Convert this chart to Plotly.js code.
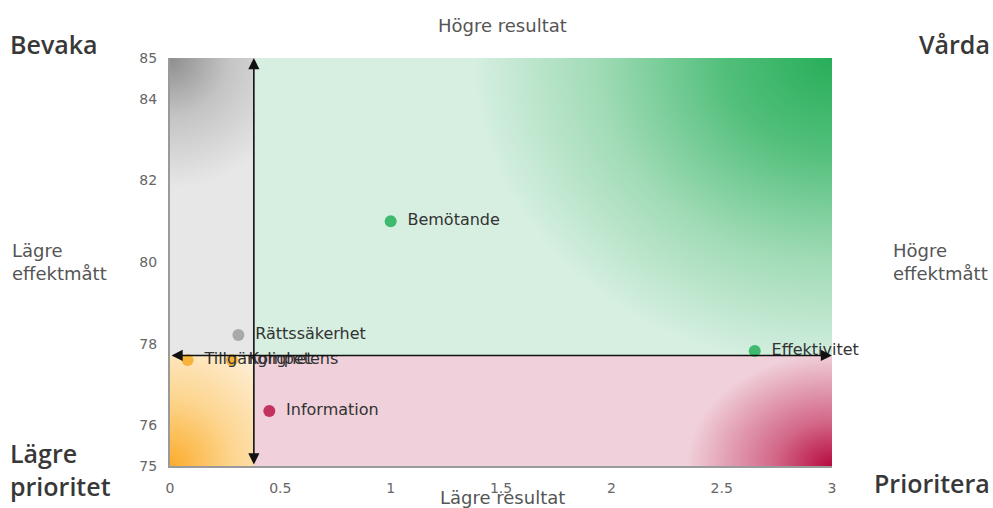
<!DOCTYPE html>
<html><head><meta charset="utf-8">
<script src="https://cdn.plot.ly/plotly-3.0.1.min.js"></script>
<style>html,body{margin:0;padding:0;background:#fff}#chart{width:993px;height:508px}</style>
</head><body><div id="chart"></div>
<script>
// ---- data ----
const labels = ['Bemötande', 'Effektivitet', 'Rättssäkerhet', 'Tillgänglighet', 'Kompetens', 'Information'];
const resultat = [1.00, 2.65, 0.31, 0.08, 0.28, 0.45];
const effektmatt = [81.00, 77.82, 78.21, 77.60, 77.60, 76.35];
const xTicks = [0, 0.5, 1, 1.5, 2, 2.5, 3];
const yTicks = [75, 76, 78, 80, 82, 84, 85];
const xRange = [0, 3];
const yRange = [75, 85];

// ---- layout geometry ----
const W = 993, H = 508;
const M = {l: 170, r: 161, t: 58, b: 42, pad: 0};
const PW = W - M.l - M.r, PH = H - M.t - M.b;

function median(a) {
  const s = [...a].sort((p, q) => p - q), n = s.length;
  return n % 2 ? s[(n - 1) / 2] : (s[n / 2 - 1] + s[n / 2]) / 2;
}
const xSplit = median(resultat);
const ySplit = median(effektmatt);

const quadColor = {tl: '#a9a9a9', tr: '#3dba6e', bl: '#f6b43b', br: '#c3315f'};
const pointColors = resultat.map((x, i) => {
  const top = effektmatt[i] >= ySplit, right = x >= xSplit;
  return quadColor[(top ? 't' : 'b') + (right ? 'r' : 'l')];
});

function gradImage(x0, x1, y0, y1, corner, stops, rx, ry) {
  const w = (x1 - x0) / (xRange[1] - xRange[0]) * PW;
  const h = (y1 - y0) / (yRange[1] - yRange[0]) * PH;
  const cx = corner[1] === 'l' ? 0 : w;
  const cy = corner[0] === 't' ? 0 : h;
  const st = stops.map(s => `<stop offset="${s[0]}" stop-color="${s[1]}"/>`).join('');
  const svg = `<svg xmlns="http://www.w3.org/2000/svg" width="${w}" height="${h}" viewBox="0 0 ${w} ${h}" preserveAspectRatio="none">` +
    `<defs><radialGradient id="g" gradientUnits="userSpaceOnUse" cx="${cx}" cy="${cy}" r="${rx}" ` +
    `gradientTransform="translate(${cx} ${cy}) scale(1 ${ry / rx}) translate(${-cx} ${-cy})">${st}</radialGradient></defs>` +
    `<rect x="0" y="0" width="${w}" height="${h}" fill="url(#g)"/></svg>`;
  return {
    source: 'data:image/svg+xml;charset=utf-8,' + encodeURIComponent(svg),
    xref: 'x', yref: 'y', x: x0, y: y1, sizex: x1 - x0, sizey: y1 - y0,
    xanchor: 'left', yanchor: 'top', sizing: 'stretch', layer: 'below'
  };
}

const images = [
  gradImage(xRange[0], xSplit, ySplit, yRange[1], 'tl',
    [[0, '#8e8e8e'], [0.45, '#c4c4c4'], [1, '#e7e7e7']], 130, 130),
  gradImage(xSplit, xRange[1], ySplit, yRange[1], 'tr',
    [[0, '#27ae59'], [0.3, '#52bf7b'], [0.65, '#a0dbb6'], [1, '#d6efe1']], 360, 310),
  gradImage(xRange[0], xSplit, yRange[0], ySplit, 'bl',
    [[0, '#fbad2c'], [0.45, '#fdd58f'], [1, '#fef3e3']], 140, 150),
  gradImage(xSplit, xRange[1], yRange[0], ySplit, 'br',
    [[0, '#b70a3e'], [0.4, '#d36889'], [1, '#f0d0da']], 145, 112)
];

const FONT = 'DejaVu Sans';
const TITLE_FONT = {family: 'Open Sans', size: 25, color: '#383838', weight: 600};
const SIDE_FONT = {family: FONT, size: 18, color: '#555'};
const px = v => (v - M.l) / PW;      // pixel x -> paper
const py = v => (H - M.b - v) / PH;  // pixel y -> paper

const trace = {
  type: 'scatter', mode: 'markers+text',
  x: resultat, y: effektmatt,
  text: labels.map(t => '\u00a0\u2009' + t),
  textposition: 'middle right',
  textfont: {family: FONT, size: 16, color: '#333'},
  marker: {size: 12, color: pointColors},
  cliponaxis: false, hoverinfo: 'text', showlegend: false
};

function arrow(x, y, ax, ay) {
  return {x: x, y: y, ax: ax, ay: ay, xref: 'x', yref: 'y', axref: 'x', ayref: 'y',
    text: '', showarrow: true, arrowside: 'end+start', arrowhead: 2, startarrowhead: 2,
    arrowsize: 1.4, startarrowsize: 1.4, arrowwidth: 1.6, arrowcolor: '#111',
    standoff: 0, startstandoff: 0};
}

const annotations = [
  arrow(xSplit, yRange[1], xSplit, yRange[0]),
  arrow(xRange[1], ySplit, xRange[0], ySplit),
  {text: 'Högre resultat', xref: 'paper', yref: 'paper', x: px(502), y: py(25), showarrow: false, font: {family: FONT, size: 18, color: '#555'}, xanchor: 'center', yanchor: 'middle'},
  {text: 'Lägre resultat', xref: 'paper', yref: 'paper', x: px(502), y: py(497), showarrow: false, font: {family: FONT, size: 18, color: '#555'}, xanchor: 'center', yanchor: 'middle'},
  {text: 'Bevaka', xref: 'paper', yref: 'paper', x: px(8), y: py(44), showarrow: false, font: TITLE_FONT, xanchor: 'left', yanchor: 'middle'},
  {text: 'Vårda', xref: 'paper', yref: 'paper', x: px(992), y: py(44), showarrow: false, font: TITLE_FONT, xanchor: 'right', yanchor: 'middle'},
  {text: 'Lägre<br>prioritet', xref: 'paper', yref: 'paper', x: px(8), y: py(469), showarrow: false, font: TITLE_FONT, xanchor: 'left', yanchor: 'middle', align: 'left'},
  {text: 'Prioritera', xref: 'paper', yref: 'paper', x: px(992), y: py(483), showarrow: false, font: TITLE_FONT, xanchor: 'right', yanchor: 'middle'},
  {text: 'Lägre<br>effektmått', xref: 'paper', yref: 'paper', x: px(10), y: py(262), showarrow: false, font: SIDE_FONT, xanchor: 'left', yanchor: 'middle', align: 'left'},
  {text: 'Högre<br>effektmått', xref: 'paper', yref: 'paper', x: px(891), y: py(262), showarrow: false, font: SIDE_FONT, xanchor: 'left', yanchor: 'middle', align: 'left'}
];

const layout = {
  width: W, height: H, margin: M,
  paper_bgcolor: '#fff', plot_bgcolor: '#fff',
  showlegend: false,
  xaxis: {range: xRange, tickvals: xTicks, ticks: '', showgrid: false, zeroline: false,
    showline: true, linecolor: '#9a9a9a', linewidth: 2, ticklabelstandoff: 8,
    tickfont: {family: FONT, size: 14, color: '#666'}, fixedrange: true},
  yaxis: {range: yRange, tickvals: yTicks, ticks: '', showgrid: false, zeroline: false,
    showline: true, linecolor: '#9a9a9a', linewidth: 2, ticklabelstandoff: 8,
    tickfont: {family: FONT, size: 14, color: '#666'}, fixedrange: true},
  images: images,
  annotations: annotations
};

Plotly.newPlot('chart', [trace], layout, {displayModeBar: false, staticPlot: true});
</script>
</body></html>
